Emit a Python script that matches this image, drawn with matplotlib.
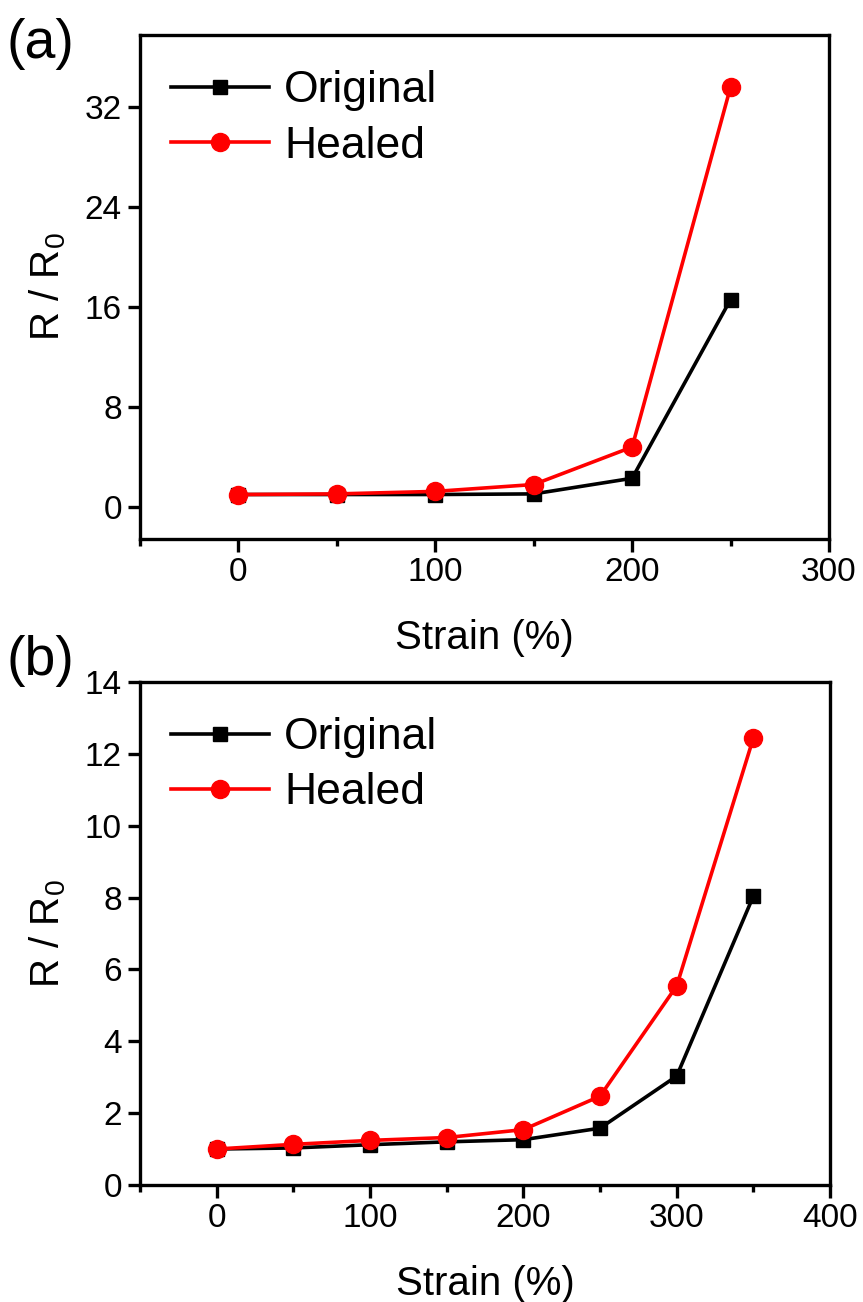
import matplotlib
matplotlib.use("Agg")
import matplotlib.pyplot as plt
from matplotlib.ticker import MultipleLocator

plt.rcParams['font.family'] = ['Liberation Sans', 'DejaVu Sans']
plt.rcParams['mathtext.fontset'] = 'custom'
plt.rcParams['mathtext.rm'] = 'Liberation Sans'
plt.rcParams['mathtext.it'] = 'Liberation Sans'

# panel (a)
strain_a = [0, 50, 100, 150, 200, 250]
original_a = [1.0, 1.0, 1.0, 1.05, 2.3, 16.6]
healed_a = [1.0, 1.05, 1.25, 1.8, 4.8, 33.6]

# panel (b)
strain_b = [0, 50, 100, 150, 200, 250, 300, 350]
original_b = [1.0, 1.03, 1.12, 1.2, 1.26, 1.58, 3.03, 8.04]
healed_b = [1.0, 1.13, 1.24, 1.32, 1.54, 2.47, 5.54, 12.44]


def draw_panel(ax, x, y1, y2, xlim, ylim, xmajor, ymajor):
    ax.plot(x, y1, color="black", marker="s", markersize=10.5, linewidth=2.6,
            label="Original")
    ax.plot(x, y2, color="#ff0000", marker="o", markersize=13, linewidth=2.6,
            markeredgecolor="#ff0000", label="Healed")
    ax.set_xlim(*xlim)
    ax.set_ylim(*ylim)
    ax.xaxis.set_major_locator(MultipleLocator(xmajor))
    ax.xaxis.set_minor_locator(MultipleLocator(xmajor / 2))
    ax.yaxis.set_major_locator(MultipleLocator(ymajor))
    for s in ax.spines.values():
        s.set_linewidth(2.4)
    ax.tick_params(which="major", direction="out", length=9, width=2.4,
                   labelsize=24, pad=4, top=False, right=False)
    ax.tick_params(which="minor", direction="out", length=5, width=2.4,
                   top=False, right=False)
    ax.tick_params(axis="y", which="minor", left=False)
    ax.set_xlabel("Strain (%)", fontsize=29, labelpad=22)
    ax.set_ylabel(r"R / R$_\mathregular{0}$", fontsize=29, labelpad=12)
    ax.legend(loc="upper left", bbox_to_anchor=(0.045, 0.93), frameon=False,
              fontsize=32, handlelength=2.2, handletextpad=0.35,
              labelspacing=0.32, borderaxespad=0, borderpad=0)


fig = plt.figure(figsize=(8.63, 13.02), dpi=100)
ax1 = fig.add_axes([0.1622, 0.586, 0.7984, 0.3871])
ax2 = fig.add_axes([0.1622, 0.0899, 0.7996, 0.3863])

draw_panel(ax1, strain_a, original_a, healed_a, (-50, 300), (-2.56, 37.76), 100, 8)
draw_panel(ax2, strain_b, original_b, healed_b, (-50, 400), (0, 14), 100, 2)

fig.text(0.008, 0.966, "(a)", fontsize=40, va="center", ha="left")
fig.text(0.008, 0.492, "(b)", fontsize=40, va="center", ha="left")

fig.savefig("out.png", dpi=100)
